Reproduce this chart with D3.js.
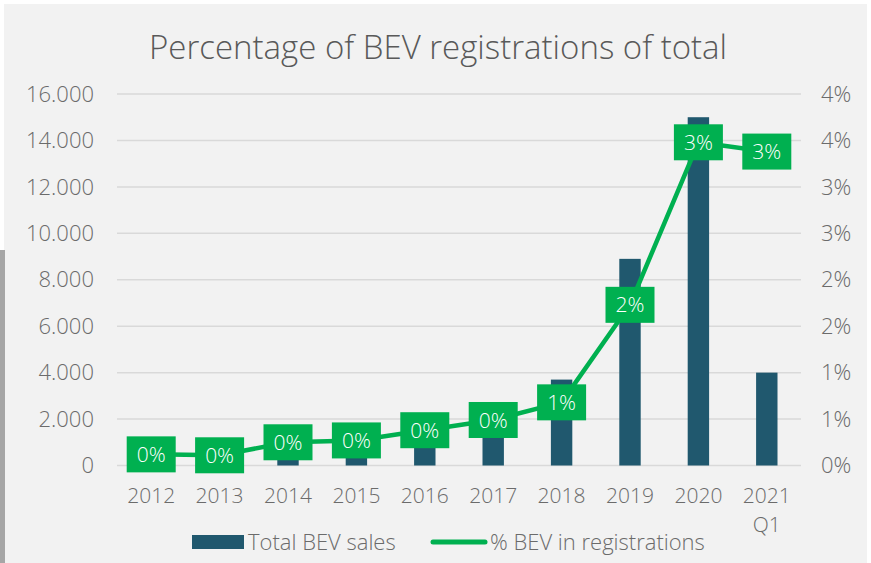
<!DOCTYPE html>
<html>
<head>
<meta charset="utf-8">
<script src="https://cdn.jsdelivr.net/npm/d3@7"></script>
<style>
  html, body { margin: 0; padding: 0; background: #ffffff; }
  svg { display: block; }
  text { font-family: "Open Sans", "Lato", sans-serif; }
</style>
</head>
<body>
<svg id="chart" width="871" height="563"></svg>
<script>
const categories = ["2012", "2013", "2014", "2015", "2016", "2017", "2018", "2019", "2020", "2021\nQ1"];
const bevSales = [200, 250, 500, 600, 1000, 1600, 3700, 8900, 15000, 4000];
const bevShare = [0.0012, 0.0011, 0.0025, 0.0027, 0.0038, 0.0049, 0.0068, 0.0173, 0.0348, 0.0338];
const shareLabels = ["0%", "0%", "0%", "0%", "0%", "0%", "1%", "2%", "3%", "3%"];
const leftTicks = [0, 2000, 4000, 6000, 8000, 10000, 12000, 14000, 16000];
const rightTicks = [0, 0.005, 0.01, 0.015, 0.02, 0.025, 0.03, 0.035, 0.04];
const rightTickLabels = ["0%", "1%", "1%", "2%", "2%", "3%", "3%", "4%", "4%"];
const title = "Percentage of BEV registrations of total";
const legendLabels = ["Total BEV sales", "% BEV in registrations"];

const svg = d3.select("#chart");
const W = 871, H = 563;
const plot = { left: 117, right: 801, top: 94, bottom: 465.5 };

// background
svg.append("rect").attr("x", 4).attr("y", 4).attr("width", 863).attr("height", H - 4).attr("fill", "#F2F2F2");
svg.append("rect").attr("x", 0).attr("y", 250).attr("width", 5).attr("height", H - 250).attr("fill", "#A6A6A6");

const x = d3.scaleBand().domain(categories).range([plot.left, plot.right]).padding(0);
const yL = d3.scaleLinear().domain([0, 16000]).range([plot.bottom, plot.top]);
const yR = d3.scaleLinear().domain([0, 0.04]).range([plot.bottom, plot.top]);

const loc = d3.formatLocale({ decimal: ",", thousands: ".", grouping: [3], currency: ["", ""] });
const fmtL = loc.format(",.0f");

const textColor = "#6B6B6B";
const fs = 22;

// gridlines
svg.append("g").selectAll("line").data(leftTicks).join("line")
  .attr("x1", plot.left).attr("x2", plot.right)
  .attr("y1", d => yL(d)).attr("y2", d => yL(d))
  .attr("stroke", "#D9D9D9").attr("stroke-width", 1.5);

// left axis labels
svg.append("g").selectAll("text").data(leftTicks).join("text")
  .attr("x", 94).attr("y", d => yL(d)).attr("dy", "0.35em")
  .attr("text-anchor", "end").attr("fill", textColor)
  .attr("font-size", fs).attr("font-weight", 300)
  .text(d => fmtL(d));

// right axis labels
svg.append("g").selectAll("text").data(rightTicks).join("text")
  .attr("x", 821).attr("y", d => yR(d)).attr("dy", "0.35em")
  .attr("text-anchor", "start").attr("fill", textColor)
  .attr("font-size", fs).attr("font-weight", 300)
  .text((d, i) => rightTickLabels[i]);

// x axis labels
const xl = svg.append("g").selectAll("text").data(categories).join("text")
  .attr("x", d => x(d) + x.bandwidth() / 2).attr("y", 503)
  .attr("text-anchor", "middle").attr("fill", textColor)
  .attr("font-size", 21).attr("font-weight", 300);
xl.each(function(d) {
  const parts = d.split("\n");
  const t = d3.select(this);
  parts.forEach((p, i) => {
    t.append("tspan").attr("x", x(d) + x.bandwidth() / 2).attr("dy", i === 0 ? 0 : 29).text(p);
  });
});

// bars
const barW = x.bandwidth() * 0.313;
svg.append("g").selectAll("rect").data(categories).join("rect")
  .attr("x", d => x(d) + x.bandwidth() / 2 - barW / 2)
  .attr("y", (d, i) => yL(bevSales[i]))
  .attr("width", barW)
  .attr("height", (d, i) => yL(0) - yL(bevSales[i]))
  .attr("fill", "#20586E");

// line
const pts = categories.map((c, i) => [x(c) + x.bandwidth() / 2, yR(bevShare[i])]);
svg.append("path").attr("d", d3.line()(pts))
  .attr("fill", "none").attr("stroke", "#00B050").attr("stroke-width", 4.5)
  .attr("stroke-linejoin", "round").attr("stroke-linecap", "round");

// data labels
const lbl = svg.append("g").selectAll("g").data(pts).join("g")
  .attr("transform", d => `translate(${d[0]},${d[1]})`);
lbl.append("rect").attr("x", -24.5).attr("y", -18).attr("width", 49).attr("height", 36).attr("fill", "#00B050");
lbl.append("text").attr("text-anchor", "middle").attr("dy", "0.36em")
  .attr("fill", "#ffffff").attr("font-size", 21).attr("font-weight", 300)
  .text((d, i) => shareLabels[i]);

// title
svg.append("text").attr("x", 438).attr("y", 59).attr("text-anchor", "middle")
  .attr("fill", "#595959").attr("font-size", 33).attr("font-weight", 300)
  .text(title);

// legend
const lg = svg.append("g");
lg.append("rect").attr("x", 192).attr("y", 535).attr("width", 52).attr("height", 14).attr("fill", "#20586E");
lg.append("text").attr("x", 248).attr("y", 542).attr("dy", "0.35em").attr("fill", textColor)
  .attr("font-size", fs).attr("font-weight", 300).text(legendLabels[0]);
lg.append("line").attr("x1", 433).attr("x2", 485).attr("y1", 542).attr("y2", 542)
  .attr("stroke", "#00B050").attr("stroke-width", 5).attr("stroke-linecap", "round");
lg.append("text").attr("x", 490).attr("y", 542).attr("dy", "0.35em").attr("fill", textColor)
  .attr("font-size", fs).attr("font-weight", 300).text(legendLabels[1]);
</script>
</body>
</html>
